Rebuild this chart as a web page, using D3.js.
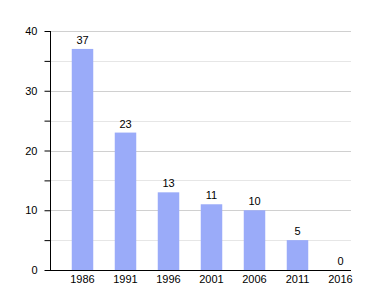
<!DOCTYPE html>
<html>
<head>
<meta charset="utf-8">
<script src="https://cdn.jsdelivr.net/npm/d3@7"></script>
<style>
  body { margin: 0; background: #fff; }
  text { font-family: "Liberation Sans", Arial, sans-serif; font-size: 11px; fill: #000; }
</style>
</head>
<body>
<svg id="chart" width="380" height="300"></svg>
<script>
var years = ["1986", "1991", "1996", "2001", "2006", "2011", "2016"];
var values = [37, 23, 13, 11, 10, 5, 0];
var yTicks = [0, 10, 20, 30, 40];

var svg = d3.select("#chart");

var y = d3.scaleLinear().domain([0, 40]).range([270, 31]);
var x = d3.scaleBand().domain(years).range([61, 362]).paddingInner(0.5).paddingOuter(0.25);

// grid lines every 5
svg.append("g").selectAll("line")
    .data(d3.range(5, 41, 5))
    .join("line")
    .attr("x1", 50).attr("x2", 351)
    .attr("y1", d => Math.round(y(d)) + 0.5)
    .attr("y2", d => Math.round(y(d)) + 0.5)
    .attr("stroke", d => d % 10 == 0 ? "#d0d0d0" : "#e6e6e6");

// bars
svg.append("g").selectAll("rect")
    .data(values)
    .join("rect")
    .attr("x", (d, i) => x(years[i]))
    .attr("width", x.bandwidth())
    .attr("y", d => y(d))
    .attr("height", d => y(0) - y(d))
    .attr("fill", "#9aabf9");

// value labels
svg.append("g").selectAll("text")
    .data(values)
    .join("text")
    .attr("x", (d, i) => x(years[i]) + x.bandwidth() / 2)
    .attr("y", d => y(d) - 5)
    .attr("text-anchor", "middle")
    .text(d => d);

// y axis
var yAxis = svg.append("g")
    .attr("transform", "translate(50.5,0)")
    .call(d3.axisLeft(y).tickValues(d3.range(0, 41, 5)).tickSize(6).tickFormat(d => d % 10 == 0 ? d : ""));
yAxis.select(".domain").attr("stroke", "#000").attr("d", "M0," + y(40) + "V" + y(0));
yAxis.selectAll(".tick line").attr("stroke", "#000");
yAxis.selectAll(".tick text").attr("x", -13).style("font-size", "11px").style("font-family", "Liberation Sans, Arial, sans-serif");

// x axis
svg.append("line")
    .attr("x1", 50).attr("x2", 351)
    .attr("y1", 270.5).attr("y2", 270.5)
    .attr("stroke", "#000");

svg.append("g").selectAll("text.xl")
    .data(years)
    .join("text")
    .attr("class", "xl")
    .attr("x", d => x(d) + x.bandwidth() / 2)
    .attr("y", 283)
    .attr("text-anchor", "middle")
    .text(d => d);
</script>
</body>
</html>
